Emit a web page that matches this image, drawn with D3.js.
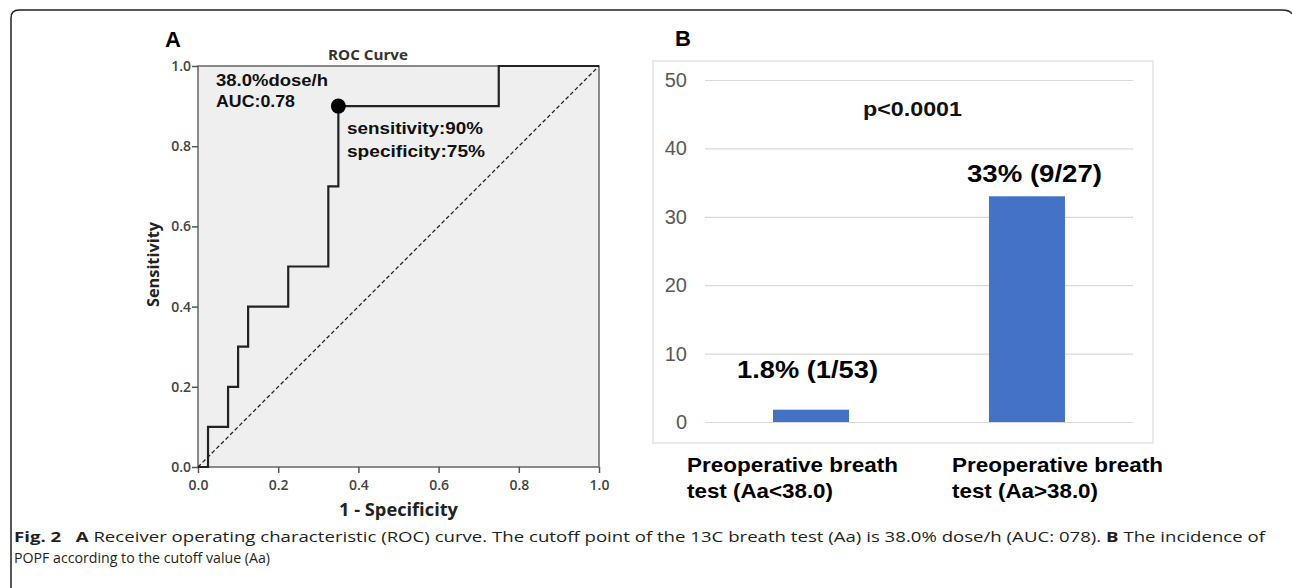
<!DOCTYPE html>
<html>
<head>
<meta charset="utf-8">
<script src="https://cdn.jsdelivr.net/npm/d3@7"></script>
<style>
  body { margin: 0; background: #fff; }
  svg { display: block; }
</style>
</head>
<body>
<script>
// ROC curve (panel A): 1 - specificity / sensitivity
var rocFpr = [0, 0.025, 0.025, 0.075, 0.075, 0.1, 0.1, 0.125, 0.125, 0.225, 0.225, 0.325, 0.325, 0.35, 0.35, 0.75, 0.75, 1.0];
var rocTpr = [0, 0, 0.1, 0.1, 0.2, 0.2, 0.3, 0.3, 0.4, 0.4, 0.5, 0.5, 0.7, 0.7, 0.9, 0.9, 1.0, 1.0];
var cutoff = [0.35, 0.9];
var rocTicks = [0, 0.2, 0.4, 0.6, 0.8, 1.0];

// incidence bars (panel B)
var groups = [["Preoperative breath", "test (Aa<38.0)"], ["Preoperative breath", "test (Aa>38.0)"]];
var incidence = [1.8, 33];
var barLabels = ["1.8% (1/53)", "33% (9/27)"];
var barTicks = [0, 10, 20, 30, 40, 50];

var svg = d3.select("body").append("svg").attr("width", 1292).attr("height", 588);

// the source figure's text is a bit wider than our fonts, so stretch it to the measured width
function fit(sel, w) {
  return sel.attr("textLength", w).attr("lengthAdjust", "spacingAndGlyphs");
}

// figure frame with rounded corners
svg.append("path")
    .attr("d", "M11,600 L11,18 Q11,10 19,10 L1282,10 Q1290,10 1292,14")
    .attr("fill", "none").attr("stroke", "#222").attr("stroke-width", 1.5);

// ---------- panel A ----------
var ax = d3.scaleLinear().domain([0, 1]).range([198, 599]);
var ay = d3.scaleLinear().domain([0, 1]).range([467, 66]);
var gA = svg.append("g");

gA.append("rect").attr("x", ax(0)).attr("y", ay(1))
    .attr("width", ax(1) - ax(0)).attr("height", ay(0) - ay(1))
    .attr("fill", "#efefef").attr("stroke", "#666").attr("stroke-width", 1.5);

gA.append("g").attr("transform", "translate(0," + ay(0) + ")")
    .call(d3.axisBottom(ax).tickValues(rocTicks).tickFormat(d3.format(".1f")).tickSize(6).tickSizeOuter(0))
    .call(g => g.select(".domain").remove())
    .call(g => g.selectAll("line").attr("stroke", "#555").attr("stroke-width", 1.5))
    .call(g => g.selectAll("text").attr("fill", "#444").attr("font-size", 14).attr("dy", "1em")
        .attr("font-family", "Open Sans, sans-serif").attr("font-weight", 600));

gA.append("g").attr("transform", "translate(" + ax(0) + ",0)")
    .call(d3.axisLeft(ay).tickValues(rocTicks).tickFormat(d3.format(".1f")).tickSize(6).tickSizeOuter(0))
    .call(g => g.select(".domain").remove())
    .call(g => g.selectAll("line").attr("stroke", "#555").attr("stroke-width", 1.5))
    .call(g => g.selectAll("text").attr("fill", "#444").attr("font-size", 14).attr("x", -7)
        .attr("font-family", "Open Sans, sans-serif").attr("font-weight", 600));

// diagonal reference
gA.append("line").attr("x1", ax(0)).attr("y1", ay(0)).attr("x2", ax(1)).attr("y2", ay(1))
    .attr("stroke", "#222").attr("stroke-width", 1.3).attr("stroke-dasharray", "4,2.5");

var rocLine = d3.line().x((d, i) => ax(rocFpr[i])).y(d => ay(d));
gA.append("path").datum(rocTpr).attr("d", rocLine)
    .attr("fill", "none").attr("stroke", "#222").attr("stroke-width", 2.2);

gA.append("circle").attr("cx", ax(cutoff[0])).attr("cy", ay(cutoff[1])).attr("r", 7.5).attr("fill", "#000");

gA.append("text").attr("x", 165).attr("y", 47).text("A")
    .attr("font-family", "Liberation Sans, Arial, sans-serif").attr("font-weight", "bold").attr("font-size", 22);
fit(gA.append("text").attr("x", 328).attr("y", 60).text("ROC Curve")
    .attr("font-family", "Open Sans, sans-serif").attr("font-weight", "bold").attr("font-size", 15).attr("fill", "#333"), 80);
fit(gA.append("text").attr("x", 339).attr("y", 516).text("1 - Specificity")
    .attr("font-family", "Open Sans, sans-serif").attr("font-weight", "bold").attr("font-size", 17).attr("fill", "#222"), 119);
fit(gA.append("text").attr("transform", "translate(159,307) rotate(-90)").text("Sensitivity")
    .attr("font-family", "Open Sans, sans-serif").attr("font-weight", "bold").attr("font-size", 15.5).attr("fill", "#222"), 85);

var ann = [["38.0%dose/h", 216, 86, 112], ["AUC:0.78", 216, 107, 79], ["sensitivity:90%", 347, 134, 136], ["specificity:75%", 347, 157, 138]];
gA.selectAll("text.ann").data(ann).enter().append("text").attr("class", "ann")
    .attr("x", d => d[1]).attr("y", d => d[2]).text(d => d[0])
    .attr("textLength", d => d[3]).attr("lengthAdjust", "spacingAndGlyphs")
    .attr("font-family", "Liberation Sans, Arial, sans-serif").attr("font-weight", "bold")
    .attr("font-size", 16.5).attr("fill", "#111");

// ---------- panel B ----------
var gB = svg.append("g");
gB.append("rect").attr("x", 653).attr("y", 61).attr("width", 500).attr("height", 382)
    .attr("fill", "#fff").attr("stroke", "#dcdcdc").attr("stroke-width", 1.2);

var bx = d3.scaleBand().domain([0, 1]).range([705, 1133]).paddingInner(0.648).paddingOuter(0.315);
var by = d3.scaleLinear().domain([0, 50]).range([422, 80]);

gB.append("g").attr("transform", "translate(705,0)")
    .call(d3.axisLeft(by).tickValues(barTicks).tickSize(-428).tickPadding(18))
    .call(g => g.select(".domain").remove())
    .call(g => g.selectAll("line").attr("stroke", "#d9d9d9").attr("stroke-width", 1.2))
    .call(g => g.selectAll("text").attr("fill", "#595959").attr("font-size", 20)
        .attr("font-family", "Liberation Sans, Arial, sans-serif"));

gB.selectAll("rect.bar").data(incidence).enter().append("rect").attr("class", "bar")
    .attr("x", (d, i) => bx(i)).attr("width", bx.bandwidth())
    .attr("y", d => by(d)).attr("height", d => by(0) - by(d))
    .attr("fill", "#4472c4");

var barLabelX = [737, 967], barLabelY = [378, 182], barLabelW = [141, 135];
gB.selectAll("text.val").data(barLabels).enter().append("text").attr("class", "val")
    .attr("x", (d, i) => barLabelX[i]).attr("y", (d, i) => barLabelY[i])
    .attr("textLength", (d, i) => barLabelW[i]).attr("lengthAdjust", "spacingAndGlyphs")
    .text(d => d)
    .attr("font-family", "Liberation Sans, Arial, sans-serif").attr("font-weight", "bold")
    .attr("font-size", 23).attr("fill", "#000");

fit(gB.append("text").attr("x", 863).attr("y", 116).text("p<0.0001")
    .attr("font-family", "Liberation Sans, Arial, sans-serif").attr("font-weight", "bold")
    .attr("font-size", 20).attr("fill", "#111"), 99);

gB.append("text").attr("x", 675).attr("y", 46).text("B")
    .attr("font-family", "Liberation Sans, Arial, sans-serif").attr("font-weight", "bold").attr("font-size", 22);

var catX = [687, 952], catW = [211, 146];
groups.forEach(function (lines, i) {
  var t = gB.append("text").attr("font-family", "Liberation Sans, Arial, sans-serif")
      .attr("font-weight", "bold").attr("font-size", 20.5).attr("fill", "#000");
  lines.forEach(function (s, j) {
    fit(t.append("tspan").attr("x", catX[i]).attr("y", 472 + j * 26).text(s), catW[j]);
  });
});

// ---------- caption ----------
var cap1 = svg.append("text").attr("x", 14).attr("y", 542).style("white-space", "pre")
    .attr("font-family", "Open Sans, sans-serif").attr("font-size", 14).attr("fill", "#231f20");
fit(cap1, 1251);
cap1.append("tspan").attr("font-weight", "bold").text("Fig. 2   A");
cap1.append("tspan").text(" Receiver operating characteristic (ROC) curve. The cutoff point of the 13C breath test (Aa) is 38.0% dose/h (AUC: 078). ");
cap1.append("tspan").attr("font-weight", "bold").text("B");
cap1.append("tspan").text(" The incidence of");

fit(svg.append("text").attr("x", 14).attr("y", 563).text("POPF according to the cutoff value (Aa)")
    .attr("font-family", "Open Sans, sans-serif").attr("font-size", 14).attr("fill", "#231f20"), 256);
</script>
</body>
</html>
